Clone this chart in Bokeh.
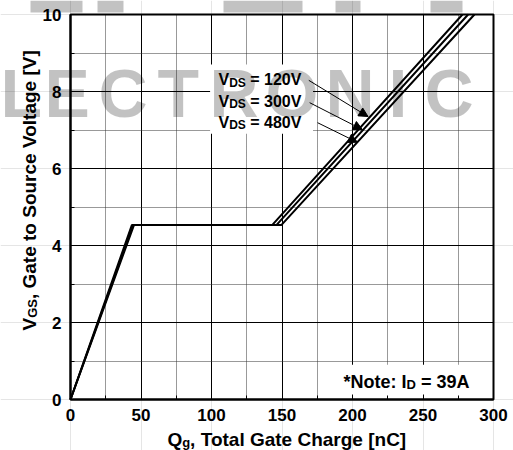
import math
from bokeh.plotting import figure
from bokeh.models import (Range1d, Label, Arrow, NormalHead, SingleIntervalTicker,
                          LinearAxis, Grid)
from bokeh.embed import file_html
from bokeh.resources import INLINE

# Gate charge characteristics: corner points of each curve (Qg [nC], VGS [V])
q_120 = [0, 43.5, 143.0, 278.0]
q_300 = [0, 44.3, 146.0, 282.0]
q_480 = [0, 45.0, 149.5, 286.5]
v_gs = [0, 4.53, 4.53, 10.0]
vds_names = ["120V", "300V", "480V"]
# points on each curve that the label arrows point at
arrow_tip_q = [211.0, 207.0, 203.5]
arrow_tip_v = [7.35, 7.01, 6.68]
note_current = "39A"

W, H = 513, 450
ML, MR, MT, MB = 70, 20, 14, 51          # space around the 0..300 x 0..10 box
SX = (W - ML - MR) / 300.0               # px per nC
SY = (H - MT - MB) / 10.0                # px per V
FONT = "Liberation Sans"
NB = "\u00a0"

# the data frame covers the whole canvas so that titles and lettering outside
# the 0..300 / 0..10 box are drawn through the same scales
p = figure(width=W, height=H,
           x_range=Range1d(-ML / SX, 300 + MR / SX), y_range=Range1d(-MB / SY, 10 + MT / SY),
           x_axis_location=None, y_axis_location=None,
           output_backend="svg", toolbar_location=None, min_border=0)
p.background_fill_color = "white"
p.border_fill_color = "white"
p.outline_line_color = None

xticker = SingleIntervalTicker(interval=50, num_minor_ticks=2)
yticker = SingleIntervalTicker(interval=2, num_minor_ticks=2)

for dim, tk, b, cb in ((0, xticker, (0, 300), (0, 10)), (1, yticker, (0, 10), (0, 300))):
    g = Grid(dimension=dim, ticker=tk, bounds=b, cross_bounds=cb)
    g.grid_line_color = "black"
    g.grid_line_width = 1
    g.minor_grid_line_color = "#333333"
    g.minor_grid_line_dash = "1 1"
    g.minor_grid_line_width = 1
    p.add_layout(g)

xaxis = LinearAxis(ticker=xticker, fixed_location=0, bounds=(0, 300))
yaxis = LinearAxis(ticker=yticker, fixed_location=0, bounds=(0, 10))
for ax in (xaxis, yaxis):
    ax.axis_line_width = 2
    ax.axis_line_color = "black"
    ax.major_tick_in = 5
    ax.major_tick_out = 0
    ax.minor_tick_in = 4
    ax.minor_tick_out = 0
    ax.major_tick_line_color = "black"
    ax.minor_tick_line_color = "black"
    ax.major_label_text_font = FONT
    ax.major_label_text_font_style = "bold"
    ax.major_label_text_font_size = "17px"
    ax.major_label_text_color = "black"
    ax.major_label_standoff = 9
p.add_layout(xaxis, "below")
p.add_layout(yaxis, "left")

# Arial-bold advance widths (em) for composing text with subscripts
AW = {' ': 0.278, NB: 0.278, '*': 0.389, 'N': 0.722, 'o': 0.611, 't': 0.333, 'e': 0.556,
      ':': 0.333, 'I': 0.278, 'D': 0.722, '=': 0.584, 'A': 0.722, 'V': 0.667, 'S': 0.667,
      'Q': 0.778, 'g': 0.611, ',': 0.278, 'T': 0.611, 'a': 0.556, 'l': 0.278, 'G': 0.778,
      'C': 0.722, 'h': 0.611, 'r': 0.389, '[': 0.333, 'n': 0.611, ']': 0.333, 'u': 0.611,
      'c': 0.556, 's': 0.556}


def text_width(s, size):
    return sum(AW.get(ch, 0.556) for ch in s) * size


def rich_text(x, y, pieces, vertical=False, center=False):
    """pieces: list of (text, font size px, baseline drop px)."""
    total = sum(text_width(t, s) for t, s, _ in pieces)
    pos = -total / 2 if center else 0.0
    for t, s, drop in pieces:
        if vertical:
            lx, ly = x + drop / SX, y + pos / SY
        else:
            lx, ly = x + pos / SX, y - drop / SY
        p.add_layout(Label(x=lx, y=ly, text=t, text_font=FONT, text_font_style="bold",
                           text_font_size=f"{s}px", text_color="black",
                           text_align="left", text_baseline="alphabetic",
                           angle=math.pi / 2 if vertical else 0))
        pos += text_width(t, s)


# white boxes behind the annotations
p.quad(left=[99.0], right=[172.0], bottom=[6.9], top=[8.7], fill_color="white", line_color=None)
p.quad(left=[188.0], right=[299.5], bottom=[0.03], top=[0.9], fill_color="white", line_color=None)

for q in (q_120, q_300, q_480):
    p.line(q, v_gs, line_color="black", line_width=2)

# box around the chart area
p.quad(left=[0], right=[300], bottom=[0], top=[10], fill_color=None,
       line_color="black", line_width=2)

# V_DS labels with arrows
label_x = (218 - ML) / SX
label_base = [8.30, 7.75, 7.20]
arrow_start = [(169.0, 8.29), (169.6, 7.71), (175.2, 7.19)]
for name, yb, (xs, ys), xt, yt in zip(vds_names, label_base, arrow_start, arrow_tip_q, arrow_tip_v):
    rich_text(label_x, yb, [("V", 16, 0), ("DS", 12, 3), (NB + "=" + NB + name, 16, 0)])
    p.add_layout(Arrow(x_start=xs, y_start=ys, x_end=xt, y_end=yt, line_width=1, line_color="black",
                       end=NormalHead(size=9, fill_color="black", line_color="black")))

rich_text((343 - ML) / SX, 0.46, [("*Note: I", 18, 0), ("D", 13, 3), (NB + "=" + NB + note_current, 18, 0)])

# axis titles
rich_text(153.9, -1.03, [("Q", 19, 0), ("g", 13, 3), (", Total Gate Charge [nC]", 19, 0)], center=True)
rich_text(-29.0, 5.45, [("V", 19, 0), ("GS", 13, 3), (", Gate to Source Voltage [V]", 19, 0)],
          vertical=True, center=True)

# faint grey lettering across the top of the sheet
for ch, px in zip("LECTRONIC", [0, 44, 98, 157, 209, 265, 325, 388, 424]):
    p.add_layout(Label(x=(px - ML) / SX, y=(399 - 92) / SY, text=ch, text_font=FONT,
                       text_font_style="bold", text_font_size="68px", text_color="black",
                       text_alpha=0.24, text_align="left", text_baseline="alphabetic"))
blk_left = [(a - ML) / SX for a in (30, 97, 223, 335, 430)]
blk_right = [(b - ML) / SX for b in (82, 123, 302, 360, 462)]
p.quad(left=blk_left, right=blk_right, bottom=10 + 2 / SY, top=10 + MT / SY,
       fill_color="black", fill_alpha=0.24, line_color=None)

open("out.html", "w").write(file_html(p, INLINE))
